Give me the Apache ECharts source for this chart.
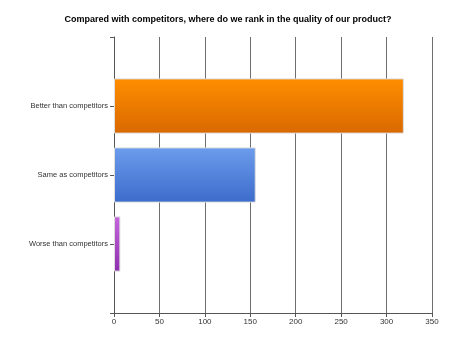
<!DOCTYPE html>
<html>
<head>
<meta charset="utf-8">
<style>
  html, body { margin: 0; padding: 0; background: #fff; }
  #chart { width: 456px; height: 342px; }
</style>
<script src="https://cdn.jsdelivr.net/npm/echarts@6/dist/echarts.min.js"></script>
</head>
<body>
<div id="chart"></div>
<script>
// Survey answers and response counts
const titleText = 'Compared with competitors, where do we rank in the quality of our product?';
const categories = ['Better than competitors', 'Same as competitors', 'Worse than competitors'];
const counts = [319, 156, 7];
const xTicks = [0, 50, 100, 150, 200, 250, 300, 350];

// Bar fills: top colour, bottom colour
const fills = [
  ['#ff8e00', '#d96800'],
  ['#6b9cec', '#3c6ccb'],
  ['#c466dc', '#8e2fae']
];

// Blank slots above and below so the rows sit on the ticks
const yCats = [''].concat(categories, ['']);
const barData = [null].concat(counts.map((v, i) => ({
  value: v,
  itemStyle: {
    color: new echarts.graphic.LinearGradient(0, 0, 0, 1, [
      { offset: 0, color: fills[i][0] },
      { offset: 1, color: fills[i][1] }
    ])
  }
})), [null]);

const chart = echarts.init(document.getElementById('chart'), null, { renderer: 'canvas' });
chart.setOption({
  animation: false,
  title: {
    text: titleText,
    left: 'center',
    top: 10,
    textStyle: { fontFamily: 'Liberation Sans', fontSize: 9, fontWeight: 'bold', color: '#000' }
  },
  grid: { left: 114, right: 24, top: 37, bottom: 29, containLabel: false },
  xAxis: {
    type: 'value',
    min: xTicks[0],
    max: xTicks[xTicks.length - 1],
    interval: xTicks[1] - xTicks[0],
    axisLine: { show: true, lineStyle: { color: '#555', width: 1 } },
    axisTick: { show: true, length: 4, lineStyle: { color: '#555' } },
    axisLabel: { margin: 5, fontFamily: 'Liberation Sans', fontSize: 8, color: '#333' },
    splitLine: { show: true, lineStyle: { color: '#6e6e6e', width: 1 } }
  },
  yAxis: {
    type: 'category',
    data: yCats,
    inverse: true,
    boundaryGap: false,
    axisLine: { show: true, lineStyle: { color: '#555', width: 1 } },
    axisTick: { show: true, length: 4, lineStyle: { color: '#555' } },
    axisLabel: { margin: 6, fontFamily: 'Liberation Sans', fontSize: 7.5, color: '#333' },
    splitLine: { show: false }
  },
  series: [{
    type: 'bar',
    data: barData,
    barCategoryGap: '20%',
    itemStyle: { borderColor: '#dddddd', borderWidth: 1 }
  }]
});
</script>
</body>
</html>
